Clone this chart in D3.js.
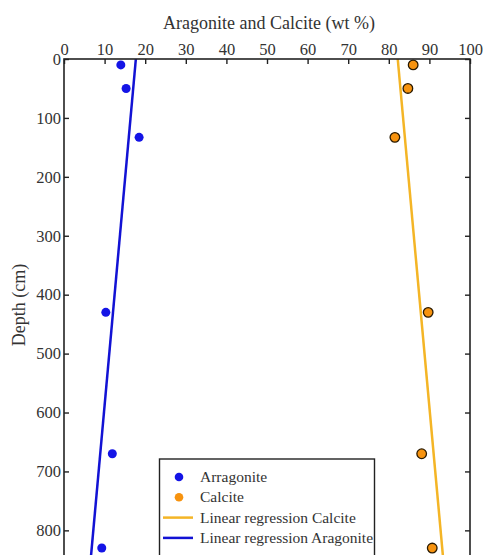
<!DOCTYPE html>
<html><head><meta charset="utf-8">
<script src="https://cdn.jsdelivr.net/npm/d3@7"></script>
<style>html,body{margin:0;padding:0;background:#fff;overflow:hidden}</style>
</head><body>
<svg id="c" width="486" height="555"></svg>
<script>
const depths = [10, 50, 133, 430, 670, 830];
const aragonite = [14.0, 15.3, 18.5, 10.3, 11.9, 9.3];
const calcite = [86.0, 84.7, 81.5, 89.7, 88.1, 90.7];
// regression lines: [intercept at depth 0, slope per cm]
const regAragonite = [17.7, -0.0131];
const regCalcite = [82.2, 0.0132];
const xTicks = [0, 10, 20, 30, 40, 50, 60, 70, 80, 90, 100];
const yTicks = [0, 100, 200, 300, 400, 500, 600, 700, 800];
const legendLabels = ["Arragonite", "Calcite", "Linear regression Calcite", "Linear regression Aragonite"];

const svg = d3.select("#c");
const font = "'Liberation Serif', 'Times New Roman', serif";
const textCol = "#333";
const L = 64, R = 470, T = 59;
const x = d3.scaleLinear().domain([0, 100]).range([L, R]);
const y = d3.scaleLinear().domain([0, 900]).range([T, T + 900 * 0.5892]);
const B = y(900);

const blue = "#1414e6", orange = "#f7930f", lineOrange = "#f4b526", lineBlue = "#1212d4";

// regression lines (clipped to plot)
svg.append("clipPath").attr("id", "pc").append("rect")
  .attr("x", L).attr("y", T).attr("width", R - L).attr("height", B - T);
const g = svg.append("g").attr("clip-path", "url(#pc)");
const line = d3.line().x(d => x(d[0])).y(d => y(d[1]));
const regPts = r => [0, 900].map(d => [r[0] + r[1] * d, d]);
g.append("path").datum(regPts(regCalcite)).attr("d", line)
  .attr("fill", "none").attr("stroke", lineOrange).attr("stroke-width", 2.5);
g.append("path").datum(regPts(regAragonite)).attr("d", line)
  .attr("fill", "none").attr("stroke", lineBlue).attr("stroke-width", 2.5);

// points
g.selectAll(".a").data(depths).enter().append("circle")
  .attr("cx", (d, i) => x(aragonite[i])).attr("cy", d => y(d)).attr("r", 4.5)
  .attr("fill", blue);
g.selectAll(".ca").data(depths).enter().append("circle")
  .attr("cx", (d, i) => x(calcite[i])).attr("cy", d => y(d)).attr("r", 4.8)
  .attr("fill", orange).attr("stroke", "#2a1a00").attr("stroke-width", 1.3);

// axes
const axTop = d3.axisTop(x).tickValues(xTicks).tickSizeInner(-5).tickSizeOuter(0).tickPadding(4);
const axLeft = d3.axisLeft(y).tickValues(yTicks).tickSizeInner(-5).tickSizeOuter(0).tickPadding(3);
const axRight = d3.axisRight(y).tickValues(yTicks).tickSizeInner(-5).tickSizeOuter(0).tickFormat("");
const styleAx = sel => {
  sel.select(".domain").remove();
  sel.selectAll("line").attr("stroke", "#222").attr("stroke-width", 1.4);
  sel.selectAll("text").attr("font-family", font).attr("font-size", 16.5).attr("fill", textCol);
};
svg.append("g").attr("transform", `translate(0,${T})`).call(axTop).call(styleAx);
svg.append("g").attr("transform", `translate(${L},0)`).call(axLeft).call(styleAx);
svg.append("g").attr("transform", `translate(${R},0)`).call(axRight).call(styleAx);

// frame
svg.append("rect").attr("x", L).attr("y", T).attr("width", R - L).attr("height", B - T)
  .attr("fill", "none").attr("stroke", "#222").attr("stroke-width", 1.6);

// titles
svg.append("text").attr("x", 269).attr("y", 29).attr("text-anchor", "middle")
  .attr("font-family", font).attr("font-size", 18).attr("fill", textCol)
  .text("Aragonite and Calcite (wt %)");
svg.append("text").attr("transform", `translate(25,305) rotate(-90)`)
  .attr("text-anchor", "middle").attr("font-family", font).attr("font-size", 18).attr("fill", textCol)
  .text("Depth (cm)");

// legend
const lg = svg.append("g");
lg.append("rect").attr("x", 159.5).attr("y", 459).attr("width", 215).attr("height", 110)
  .attr("fill", "#fff").attr("stroke", "#222").attr("stroke-width", 1.4);
const rowY = i => 477 + i * 20.3;
lg.append("circle").attr("cx", 179).attr("cy", rowY(0)).attr("r", 4.3).attr("fill", blue);
lg.append("circle").attr("cx", 179).attr("cy", rowY(1)).attr("r", 4.3).attr("fill", orange);
lg.append("line").attr("x1", 163).attr("x2", 193).attr("y1", rowY(2)).attr("y2", rowY(2))
  .attr("stroke", lineOrange).attr("stroke-width", 2.5);
lg.append("line").attr("x1", 163).attr("x2", 193).attr("y1", rowY(3)).attr("y2", rowY(3))
  .attr("stroke", lineBlue).attr("stroke-width", 2.5);
lg.selectAll(".lt").data(legendLabels).enter().append("text")
  .attr("x", 200).attr("y", (d, i) => rowY(i) + 5)
  .attr("font-family", font).attr("font-size", 15.5).attr("fill", textCol).text(d => d);
</script>
</body></html>
